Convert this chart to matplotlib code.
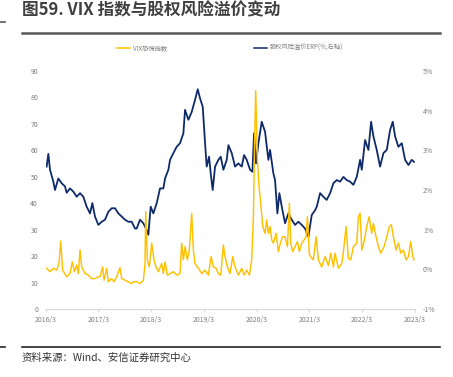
import matplotlib
matplotlib.use('Agg')
import matplotlib.pyplot as plt
from matplotlib.lines import Line2D
from matplotlib.ticker import FuncFormatter

plt.rcParams['font.family'] = ['Noto Sans CJK SC', 'DejaVu Sans']

# 股权风险溢价 ERP (%), 时间用小数年表示
erp_t = [2016.185, 2016.217, 2016.249, 2016.312, 2016.343, 2016.407, 2016.470, 2016.533,
         2016.565, 2016.628, 2016.691, 2016.755, 2016.818, 2016.881, 2016.944, 2017.008,
         2017.052, 2017.102, 2017.166, 2017.229, 2017.292, 2017.355, 2017.419, 2017.482,
         2017.545, 2017.609, 2017.672, 2017.735, 2017.798, 2017.861, 2017.893, 2017.956,
         2018.020, 2018.083, 2018.114, 2018.159, 2018.209, 2018.273, 2018.336, 2018.399,
         2018.431, 2018.494, 2018.526, 2018.589, 2018.652, 2018.715, 2018.779, 2018.810,
         2018.874, 2018.937, 2019.000, 2019.051, 2019.095, 2019.146, 2019.190, 2019.221,
         2019.266, 2019.297, 2019.335, 2019.380, 2019.443, 2019.487, 2019.538, 2019.601,
         2019.633, 2019.696, 2019.759, 2019.822, 2019.886, 2019.930, 2019.980, 2020.044,
         2020.088, 2020.120, 2020.157, 2020.202, 2020.265, 2020.328, 2020.391, 2020.423,
         2020.486, 2020.518, 2020.562, 2020.600, 2020.645, 2020.708, 2020.771, 2020.834,
         2020.897, 2020.961, 2021.024, 2021.087, 2021.150, 2021.214, 2021.277, 2021.309,
         2021.372, 2021.435, 2021.498, 2021.562, 2021.625, 2021.688, 2021.751, 2021.815,
         2021.878, 2021.941, 2022.004, 2022.068, 2022.131, 2022.163, 2022.226, 2022.289,
         2022.340, 2022.384, 2022.447, 2022.510, 2022.574, 2022.637, 2022.700, 2022.751,
         2022.795, 2022.858, 2022.922, 2022.985, 2023.048, 2023.111, 2023.155]
erp = [2.59, 2.91, 2.51, 2.21, 2.00, 2.29, 2.17, 2.09,
       1.93, 2.04, 1.96, 1.83, 1.92, 1.83, 1.58, 1.41,
       1.67, 1.33, 1.12, 1.20, 1.25, 1.45, 1.54, 1.54,
       1.41, 1.33, 1.25, 1.20, 1.20, 1.03, 1.03, 1.25,
       1.16, 0.99, 0.87, 1.58, 1.41, 1.67, 2.04, 2.04,
       2.29, 2.51, 2.76, 2.93, 3.09, 3.18, 3.43, 4.02,
       3.77, 3.97, 4.27, 4.54, 4.31, 4.10, 3.18, 2.59,
       2.84, 2.42, 2.00, 2.59, 2.76, 2.84, 2.51, 2.76,
       3.13, 2.93, 2.59, 2.67, 2.59, 2.88, 2.76, 2.51,
       2.46, 3.43, 2.67, 3.18, 3.72, 3.47, 2.76, 3.01,
       2.42, 2.25, 1.41, 1.92, 1.58, 1.16, 1.41, 1.25,
       1.12, 1.20, 1.12, 1.03, 0.82, 1.37, 1.49, 1.58,
       1.92, 1.83, 1.75, 1.92, 2.17, 2.25, 2.21, 2.33,
       2.25, 2.21, 2.13, 2.33, 2.76, 2.51, 3.26, 3.01,
       3.72, 3.35, 3.01, 2.59, 2.93, 3.01, 3.51, 3.72,
       3.35, 3.09, 3.18, 2.76, 2.63, 2.76, 2.71]

# VIX 恐慌指数
vix_t = [2016.185, 2016.249, 2016.312, 2016.375, 2016.419, 2016.451, 2016.489, 2016.565,
         2016.628, 2016.672, 2016.710, 2016.755, 2016.786, 2016.818, 2016.850, 2016.913,
         2016.976, 2017.039, 2017.102, 2017.166, 2017.197, 2017.248, 2017.273, 2017.324,
         2017.355, 2017.419, 2017.463, 2017.514, 2017.577, 2017.609, 2017.672, 2017.735,
         2017.798, 2017.830, 2017.893, 2017.956, 2018.020, 2018.051, 2018.064, 2018.095,
         2018.133, 2018.178, 2018.222, 2018.260, 2018.304, 2018.367, 2018.399, 2018.431,
         2018.475, 2018.526, 2018.589, 2018.652, 2018.715, 2018.747, 2018.779, 2018.810,
         2018.854, 2018.892, 2018.937, 2018.968, 2019.000, 2019.063, 2019.127, 2019.190,
         2019.253, 2019.304, 2019.348, 2019.399, 2019.443, 2019.487, 2019.538, 2019.569,
         2019.613, 2019.664, 2019.715, 2019.759, 2019.822, 2019.886, 2019.930, 2019.980,
         2020.031, 2020.075, 2020.107, 2020.132, 2020.151, 2020.183, 2020.214, 2020.246,
         2020.284, 2020.328, 2020.360, 2020.391, 2020.423, 2020.455, 2020.486, 2020.537,
         2020.581, 2020.626, 2020.664, 2020.708, 2020.752, 2020.790, 2020.815, 2020.853,
         2020.897, 2020.942, 2020.980, 2021.024, 2021.068, 2021.106, 2021.131, 2021.169,
         2021.214, 2021.245, 2021.296, 2021.340, 2021.403, 2021.467, 2021.530, 2021.574,
         2021.625, 2021.656, 2021.719, 2021.783, 2021.815, 2021.865, 2021.909, 2021.954,
         2022.004, 2022.068, 2022.099, 2022.131, 2022.163, 2022.207, 2022.257, 2022.302,
         2022.352, 2022.384, 2022.434, 2022.479, 2022.523, 2022.586, 2022.637, 2022.687,
         2022.725, 2022.763, 2022.814, 2022.858, 2022.903, 2022.953, 2023.004, 2023.048,
         2023.092, 2023.130, 2023.155]
vix = [15.4, 14.1, 15.4, 14.7, 17.2, 25.7, 14.7, 12.2,
       13.4, 17.8, 14.1, 16.6, 13.4, 22.3, 15.9, 13.4,
       12.8, 11.5, 11.5, 12.2, 12.2, 15.9, 10.9, 15.4,
       10.3, 11.5, 10.3, 12.2, 15.6, 11.5, 10.9, 10.3,
       9.6, 10.3, 10.3, 9.6, 10.9, 17.0, 36.8, 18.6,
       15.9, 24.9, 18.6, 15.9, 14.1, 17.2, 13.4, 17.8,
       12.8, 13.4, 14.1, 12.8, 13.4, 24.9, 18.6, 23.6,
       18.6, 22.3, 36.2, 22.3, 17.2, 15.4, 13.4, 14.7,
       12.8, 19.8, 15.9, 15.4, 13.4, 12.8, 24.2, 19.8,
       15.9, 13.4, 19.8, 15.9, 12.8, 15.4, 12.8, 14.7,
       12.8, 18.6, 34.9, 65.3, 82.6, 56.4, 46.3, 40.0,
       31.2, 28.6, 33.7, 28.6, 31.2, 26.1, 24.9, 28.6,
       21.7, 25.5, 27.3, 27.3, 23.6, 40.0, 24.9, 21.7,
       23.6, 25.5, 21.7, 24.9, 26.1, 27.3, 34.9, 20.6,
       19.2, 18.6, 27.3, 18.6, 15.9, 19.8, 16.4, 21.1,
       15.9, 21.1, 15.4, 17.2, 21.7, 31.2, 19.2, 18.6,
       23.6, 24.9, 34.9, 36.2, 22.3, 25.5, 31.2, 34.9,
       28.6, 32.4, 27.3, 23.6, 21.1, 23.6, 27.3, 31.2,
       31.9, 27.3, 22.3, 24.9, 21.1, 22.3, 18.6, 19.8,
       25.5, 19.8, 18.6]

year_ticks = [2016.167 + i for i in range(8)]
year_labels = ['2016/3', '2017/3', '2018/3', '2019/3', '2020/3', '2021/3', '2022/3', '2023/3']

W, H = 453, 377
fig = plt.figure(figsize=(W / 100, H / 100), dpi=100)

ax = fig.add_axes([45.7 / W, 1 - 309 / H, 369 / W, 238 / H])
ax2 = ax.twinx()

vix_color = '#FFC000'
erp_color = '#0E2A6B'
grey = '#7f7f7f'

ax2.plot(erp_t, erp, color=erp_color, lw=1.3)
ax.plot(vix_t, vix, color=vix_color, lw=1.05)

# 黄线画在蓝线上面
ax.set_zorder(ax2.get_zorder() + 1)
ax.patch.set_visible(False)

ax.set_xlim(2016.167, 2023.167)
ax.set_ylim(0, 90)
ax2.set_ylim(-1, 5)
ax.set_yticks(range(0, 91, 10))
ax2.set_yticks(range(-1, 6))
ax2.yaxis.set_major_formatter(FuncFormatter(lambda v, p: '%d%%' % v))
ax.set_xticks(year_ticks)
ax.set_xticklabels(year_labels)

for a in (ax, ax2):
    for s in a.spines.values():
        s.set_visible(False)
ax.spines['bottom'].set_visible(True)
ax.spines['bottom'].set_color('#d9d9d9')
ax.spines['bottom'].set_linewidth(0.8)

ax.tick_params(axis='x', length=2, color='#d9d9d9', labelsize=5, labelcolor=grey, pad=3)
ax.tick_params(axis='y', length=0, labelsize=5, labelcolor=grey, pad=5.5)
ax2.tick_params(axis='y', length=0, labelsize=5, labelcolor=grey, pad=6)

handles = [Line2D([], [], color=vix_color, lw=1.1), Line2D([], [], color=erp_color, lw=1.1)]
fig.legend(handles, ['VIX恐慌指数', '股权风险溢价ERP(%,右轴)'], loc='center left',
           bbox_to_anchor=(117 / W, 1 - 48 / H), ncol=2, frameon=False, fontsize=4.5,
           labelcolor=grey, handlelength=2.1, handletextpad=0.4, columnspacing=14,
           borderpad=0, borderaxespad=0)

# 标题和来源
fig.text(22 / W, 1 - 10.5 / H, '图59. VIX 指数与股权风险溢价变动', fontsize=12, fontweight='bold',
         color='#404040', va='center', ha='left')
fig.add_artist(Line2D([22 / W, 440 / W], [1 - 33 / H] * 2, color='#595959', lw=1.8))
fig.add_artist(Line2D([0, 5 / W], [1 - 22 / H] * 2, color='#595959', lw=1.2))
fig.add_artist(Line2D([22 / W, 440 / W], [1 - 347 / H] * 2, color='#262626', lw=1.2))
fig.add_artist(Line2D([0, 5 / W], [1 - 347 / H] * 2, color='#262626', lw=1.2))
fig.text(22 / W, 1 - 358 / H, '资料来源：Wind、安信证券研究中心', fontsize=7.5, style='italic',
         color='#333333', va='center', ha='left')

fig.savefig('out.png', dpi=100)
